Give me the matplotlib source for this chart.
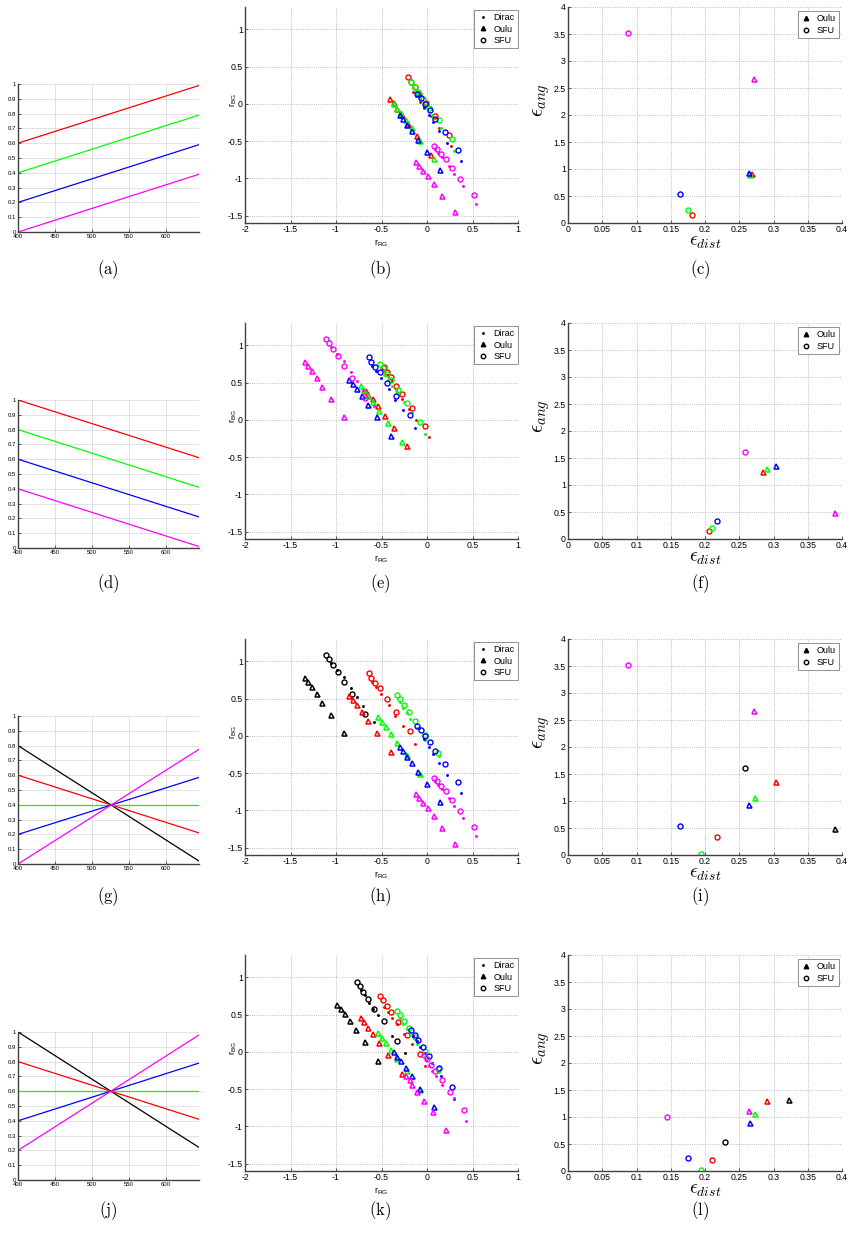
import numpy as np
import matplotlib.pyplot as plt
from matplotlib.lines import Line2D

plt.rcParams['font.family'] = ['Liberation Sans', 'DejaVu Sans']
plt.rcParams['mathtext.fontset'] = 'cm'
plt.rcParams['axes.unicode_minus'] = False

W, H = 851, 1238

# left column: illuminant spectra, value at the first and last wavelength
wl = [400, 645]
a_red, a_green, a_blue, a_magenta = [0.60, 0.99], [0.40, 0.79], [0.20, 0.59], [0.00, 0.39]
d_red, d_green, d_blue, d_magenta = [1.00, 0.61], [0.80, 0.41], [0.60, 0.21], [0.40, 0.01]
g_black, g_red, g_green, g_blue, g_magenta = [0.80, 0.02], [0.60, 0.21], [0.40, 0.40], [0.20, 0.585], [0.00, 0.775]
j_black, j_red, j_green, j_blue, j_magenta = [1.00, 0.22], [0.80, 0.41], [0.60, 0.60], [0.40, 0.79], [0.20, 0.98]

# middle column: (r_RG, r_BG) estimates per illuminant
ar_oulu = [(-0.405, 0.064), (-0.368, 0.005), (-0.332, -0.063), (-0.277, -0.151), (-0.214, -0.268), (-0.105, -0.429), (0.042, -0.689)]
ar_sfu = [(-0.207, 0.364), (-0.178, 0.297), (-0.134, 0.229), (-0.086, 0.131), (-0.013, 0.005), (0.089, -0.160), (0.239, -0.416)]
ar_dirac = [(-0.156, 0.162), (-0.12, 0.10), (-0.08, 0.03), (-0.03, -0.05), (0.04, -0.17), (0.13, -0.322), (0.269, -0.564)]

ag_oulu = [(-0.361, -0.004), (-0.335, -0.063), (-0.288, -0.129), (-0.236, -0.219), (-0.167, -0.330), (-0.075, -0.504), (0.082, -0.746)]
ag_sfu = [(-0.174, 0.295), (-0.130, 0.228), (-0.094, 0.161), (-0.042, 0.071), (0.020, -0.054), (0.130, -0.223), (0.272, -0.473)]
ag_dirac = [(-0.15, 0.21), (-0.11, 0.14), (-0.075, 0.07), (-0.02, -0.02), (0.05, -0.15), (0.15, -0.33), (0.298, -0.631)]

ab_oulu = [(-0.295, -0.149), (-0.262, -0.203), (-0.218, -0.279), (-0.167, -0.369), (-0.097, -0.481), (0.001, -0.652), (0.144, -0.894)]
ab_sfu = [(-0.105, 0.134), (-0.068, 0.075), (-0.017, -0.005), (0.031, -0.082), (0.093, -0.203), (0.195, -0.378), (0.342, -0.616)]
ab_dirac = [(-0.09, 0.10), (-0.031, -0.048), (0.02, -0.15), (0.071, -0.246), (0.137, -0.366), (0.221, -0.532), (0.371, -0.765)]

am_oulu = [(-0.116, -0.779), (-0.086, -0.832), (-0.042, -0.900), (0.012, -0.971), (0.078, -1.074), (0.170, -1.231), (0.309, -1.446)]
am_sfu = [(0.078, -0.564), (0.111, -0.613), (0.155, -0.671), (0.206, -0.747), (0.272, -0.855), (0.367, -1.003), (0.517, -1.218)]
am_dirac = [(0.085, -0.60), (0.12, -0.66), (0.165, -0.72), (0.24, -0.83), (0.294, -0.94), (0.397, -1.106), (0.536, -1.343)]

dr_oulu = [(-0.672, 0.390), (-0.643, 0.336), (-0.595, 0.273), (-0.540, 0.179), (-0.467, 0.057), (-0.368, -0.104), (-0.222, -0.355)]
dr_sfu = [(-0.474, 0.704), (-0.441, 0.641), (-0.397, 0.569), (-0.342, 0.452), (-0.273, 0.345), (-0.170, 0.165), (-0.024, -0.077)]
dr_dirac = [(-0.43, 0.60), (-0.39, 0.52), (-0.34, 0.42), (-0.273, 0.277), (-0.20, 0.14), (-0.116, 0.004), (0.023, -0.234)]

dg_oulu = [(-0.727, 0.451), (-0.697, 0.397), (-0.650, 0.321), (-0.595, 0.237), (-0.525, 0.116), (-0.427, -0.049), (-0.277, -0.304)]
dg_sfu = [(-0.518, 0.754), (-0.485, 0.696), (-0.445, 0.621), (-0.394, 0.531), (-0.324, 0.406), (-0.225, 0.228), (-0.079, -0.027)]
dg_dirac = [(-0.47, 0.60), (-0.43, 0.53), (-0.38, 0.46), (-0.33, 0.38), (-0.25, 0.24), (-0.17, 0.10), (-0.024, -0.194)]

db_oulu = [(-0.858, 0.533), (-0.818, 0.479), (-0.771, 0.412), (-0.716, 0.322), (-0.643, 0.201), (-0.544, 0.035), (-0.394, -0.221)]
db_sfu = [(-0.639, 0.847), (-0.610, 0.780), (-0.566, 0.713), (-0.511, 0.636), (-0.441, 0.488), (-0.343, 0.318), (-0.192, 0.062)]
db_dirac = [(-0.60, 0.72), (-0.56, 0.65), (-0.507, 0.56), (-0.423, 0.412), (-0.35, 0.27), (-0.266, 0.129), (-0.13, -0.109)]

dm_oulu = [(-1.345, 0.776), (-1.312, 0.722), (-1.268, 0.650), (-1.213, 0.560), (-1.151, 0.439), (-1.052, 0.277), (-0.913, 0.035)]
dm_sfu = [(-1.107, 1.090), (-1.078, 1.027), (-1.038, 0.951), (-0.983, 0.856), (-0.917, 0.726), (-0.825, 0.556), (-0.686, 0.295)]
dm_dirac = [(-1.05, 0.98), (-0.99, 0.89), (-0.913, 0.79), (-0.84, 0.64), (-0.771, 0.52), (-0.70, 0.40), (-0.58, 0.19)]

flat_oulu = [(-0.533, 0.250), (-0.493, 0.192), (-0.456, 0.116), (-0.394, 0.031), (-0.328, -0.091), (-0.225, -0.261), (-0.075, -0.508)]
flat_sfu = [(-0.331, 0.551), (-0.299, 0.488), (-0.258, 0.417), (-0.200, 0.322), (-0.130, 0.197), (-0.024, 0.013), (0.119, -0.234)]
flat_dirac = [(-0.30, 0.45), (-0.262, 0.38), (-0.22, 0.30), (-0.185, 0.228), (-0.11, 0.10), (-0.02, -0.05), (0.13, -0.27)]

jk_oulu = [(-0.994, 0.634), (-0.950, 0.580), (-0.902, 0.509), (-0.851, 0.420), (-0.782, 0.299), (-0.683, 0.129), (-0.533, -0.121)]
jk_sfu = [(-0.774, 0.933), (-0.738, 0.879), (-0.701, 0.804), (-0.643, 0.710), (-0.577, 0.580), (-0.478, 0.411), (-0.328, 0.152)]
jk_dirac = [(-0.72, 0.83), (-0.68, 0.76), (-0.635, 0.652), (-0.59, 0.58), (-0.54, 0.491), (-0.383, 0.219), (-0.247, -0.018)]

jm_oulu = [(-0.233, -0.326), (-0.189, -0.375), (-0.160, -0.442), (-0.105, -0.536), (-0.035, -0.661), (0.067, -0.813), (0.206, -1.054)]
jm_sfu = [(-0.031, -0.045), (0.001, -0.103), (0.042, -0.179), (0.093, -0.259), (0.162, -0.379), (0.258, -0.540), (0.404, -0.786)]
jm_dirac = [(-0.01, -0.11), (0.02, -0.19), (0.06, -0.26), (0.10, -0.33), (0.17, -0.45), (0.30, -0.62), (0.43, -0.929)]

# right column: (eps_dist, eps_ang) for Oulu and SFU
ar_err = [(0.268, 0.900), (0.181, 0.154)]
ag_err = [(0.266, 0.880), (0.175, 0.247)]
ab_err = [(0.264, 0.920), (0.163, 0.530)]
am_err = [(0.271, 2.660), (0.088, 3.520)]
dr_err = [(0.285, 1.238), (0.206, 0.155)]
dg_err = [(0.290, 1.288), (0.210, 0.198)]
db_err = [(0.303, 1.356), (0.218, 0.334)]
dm_err = [(0.390, 0.477), (0.259, 1.616)]
flat_err = [(0.273, 1.050), (0.194, 0.020)]
jk_err = [(0.322, 1.310), (0.229, 0.543)]
jm_err = [(0.264, 1.110), (0.145, 1.000)]

ser_ar = (ar_oulu, ar_sfu, ar_dirac, ar_err)
ser_ag = (ag_oulu, ag_sfu, ag_dirac, ag_err)
ser_ab = (ab_oulu, ab_sfu, ab_dirac, ab_err)
ser_am = (am_oulu, am_sfu, am_dirac, am_err)
ser_dr = (dr_oulu, dr_sfu, dr_dirac, dr_err)
ser_dg = (dg_oulu, dg_sfu, dg_dirac, dg_err)
ser_db = (db_oulu, db_sfu, db_dirac, db_err)
ser_dm = (dm_oulu, dm_sfu, dm_dirac, dm_err)
ser_flat = (flat_oulu, flat_sfu, flat_dirac, flat_err)
ser_jk = (jk_oulu, jk_sfu, jk_dirac, jk_err)
ser_jm = (jm_oulu, jm_sfu, jm_dirac, jm_err)

RED, GREEN, BLUE, MAG, BLACK = '#ff0000', '#00ff00', '#0000ff', '#ff00ff', '#000000'

rows = [
    [(RED, a_red, ser_ar), (GREEN, a_green, ser_ag), (BLUE, a_blue, ser_ab), (MAG, a_magenta, ser_am)],
    [(RED, d_red, ser_dr), (GREEN, d_green, ser_dg), (BLUE, d_blue, ser_db), (MAG, d_magenta, ser_dm)],
    [(BLACK, g_black, ser_dm), (RED, g_red, ser_db), (GREEN, g_green, ser_flat), (BLUE, g_blue, ser_ab), (MAG, g_magenta, ser_am)],
    [(BLACK, j_black, ser_jk), (RED, j_red, ser_dg), (GREEN, j_green, ser_flat), (BLUE, j_blue, ser_ag), (MAG, j_magenta, ser_jm)],
]
letters = ['abc', 'def', 'ghi', 'jkl']


def add_ax(fig, x0, y0, x1, y1):
    return fig.add_axes([x0 / W, 1 - y1 / H, (x1 - x0) / W, (y1 - y0) / H])


def style(ax, size, grid_ls=':', grid_col='#a8a8a8'):
    for s in ['top', 'right']:
        ax.spines[s].set_visible(False)
    for s in ['left', 'bottom']:
        ax.spines[s].set_color('#404040')
        ax.spines[s].set_linewidth(1.0)
    ax.tick_params(direction='in', length=2.5, width=0.6, labelsize=size, pad=1.5, colors='#404040', labelcolor='black')
    ax.grid(True, ls=grid_ls, color=grid_col, lw=0.6)
    ax.set_axisbelow(True)


def fmt(vals):
    return [f'{v:g}' for v in vals]


def xy(pts):
    a = np.array(pts)
    return a[:, 0], a[:, 1]


fig = plt.figure(figsize=(W / 100, H / 100), dpi=100)

for r, row in enumerate(rows):
    off = 316 * r

    # spectra
    ax = add_ax(fig, 18, 84 + off, 199, 232 + off)
    style(ax, 4.3, grid_ls='-', grid_col='#dcdcdc')
    for col, spec, _ in row:
        ax.plot(wl, spec, color=col, lw=0.9)
    ax.set_xlim(400, 645)
    ax.set_ylim(0, 1)
    xt = np.arange(400, 601, 50)
    yt = np.round(np.arange(0, 1.01, 0.1), 1)
    ax.set_xticks(xt, fmt(xt))
    ax.set_yticks(yt, fmt(yt))

    # chromaticity estimates
    ax = add_ax(fig, 245, 7 + off, 518, 223 + off)
    style(ax, 6.3)
    for col, _, ser in row:
        oulu, sfu, dirac, _ = ser
        ax.plot(*xy(oulu), ls='none', marker='^', ms=3.6, mfc='none', mec=col, mew=1.1)
        ax.plot(*xy(sfu), ls='none', marker='o', ms=3.6, mfc='none', mec=col, mew=1.0)
        ax.plot(*xy(dirac), ls='none', marker='.', ms=2.2, color=col)
    ax.set_xlim(-2, 1)
    ax.set_ylim(-1.6, 1.3)
    xt = np.arange(-2, 1.01, 0.5)
    yt = np.arange(-1.5, 1.01, 0.5)
    ax.set_xticks(xt, fmt(xt))
    ax.set_yticks(yt, fmt(yt))
    ax.set_xlabel(r'$\mathregular{r_{RG}}$', fontsize=6.5)
    ax.xaxis.set_label_coords(0.5, -0.065)
    ax.set_ylabel(r'$\mathregular{r_{BG}}$', fontsize=6.5)
    ax.yaxis.set_label_coords(-0.022, 0.57)
    handles = [Line2D([], [], ls='none', marker='.', ms=2, color='k'),
               Line2D([], [], ls='none', marker='^', ms=3.2, color='k', mfc='k'),
               Line2D([], [], ls='none', marker='o', ms=3.2, mfc='none', mec='k', mew=1.0)]
    leg = ax.legend(handles, ['Dirac', 'Oulu', 'SFU'], loc='upper right', bbox_to_anchor=(1.0, 0.985),
                    borderaxespad=0, fontsize=6.5, handlelength=1.2, handletextpad=0.6,
                    labelspacing=0.25, borderpad=0.35, fancybox=False, framealpha=1)
    leg.get_frame().set_edgecolor('#909090')
    leg.get_frame().set_linewidth(0.7)

    # error plot
    ax = add_ax(fig, 568, 7 + off, 842, 223 + off)
    style(ax, 6.3)
    for col, _, ser in row:
        err = ser[3]
        ax.plot(err[0][0], err[0][1], ls='none', marker='^', ms=3.6, mfc='none', mec=col, mew=1.1)
        ax.plot(err[1][0], err[1][1], ls='none', marker='o', ms=3.6, mfc='none', mec=col, mew=1.0)
    ax.set_xlim(0, 0.4)
    ax.set_ylim(0, 4)
    xt = np.round(np.arange(0, 0.401, 0.05), 2)
    yt = np.arange(0, 4.01, 0.5)
    ax.set_xticks(xt, fmt(xt))
    ax.set_yticks(yt, fmt(yt))
    ax.set_xlabel(r'$\epsilon_{dist}$', fontsize=14)
    ax.xaxis.set_label_coords(0.5, -0.052)
    ax.set_ylabel(r'$\epsilon_{ang}$', fontsize=15)
    ax.yaxis.set_label_coords(-0.06, 0.57)
    handles = [Line2D([], [], ls='none', marker='^', ms=3.2, color='k', mfc='k'),
               Line2D([], [], ls='none', marker='o', ms=3.2, mfc='none', mec='k', mew=1.0)]
    leg = ax.legend(handles, ['Oulu', 'SFU'], loc='upper right', bbox_to_anchor=(0.99, 0.98),
                    borderaxespad=0, fontsize=6.5, handlelength=1.2, handletextpad=0.6,
                    labelspacing=0.25, borderpad=0.35, fancybox=False, framealpha=1)
    leg.get_frame().set_edgecolor('#909090')
    leg.get_frame().set_linewidth(0.7)

    # panel letters
    ly = 270 + 313.5 * r
    for lx, ch in zip([108, 380, 700], letters[r]):
        fig.text(lx / W, 1 - ly / H, r'$\mathrm{(' + ch + ')}$', fontsize=12, ha='center', va='center')

fig.savefig('out.png', dpi=100, facecolor='white')
